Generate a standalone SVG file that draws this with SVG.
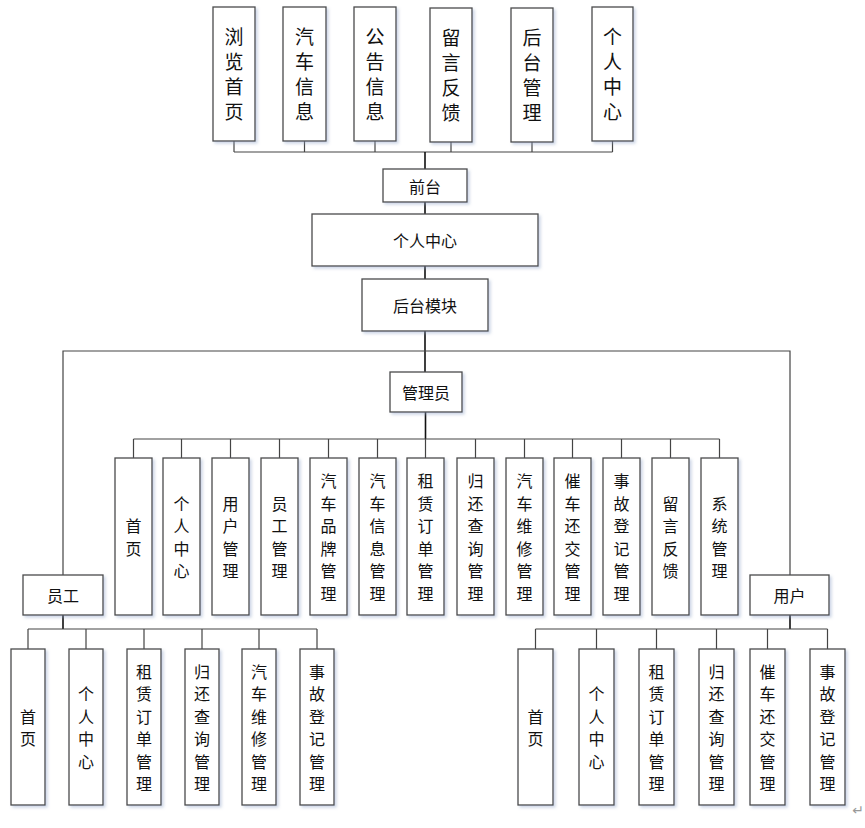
<svg xmlns="http://www.w3.org/2000/svg" width="865" height="828" viewBox="0 0 865 828">
<defs>
<filter id="sh" x="-20%" y="-20%" width="150%" height="150%">
<feDropShadow dx="2" dy="2" stdDeviation="1.5" flood-color="#8fa3c8" flood-opacity="0.45"/>
</filter>
</defs>
<style>
.b{fill:#fff;stroke:#4a4a4a;stroke-width:1.3;filter:url(#sh)}
.t{font-family:"Noto Sans CJK SC","Noto Sans",sans-serif;fill:#111;text-anchor:middle;dominant-baseline:central}
.t19{font-size:19px}
.t16{font-size:16px}
.c{fill:none;stroke:#444;stroke-width:1.2}
.ct{fill:none;stroke:#111;stroke-width:1.6}
</style>
<rect width="865" height="828" fill="#fff"/>
<g id="connectors">
<path class="c" d="M234 141V152M304.5 141V152M375 141V152M451 142V152M532 142V152M612.5 141V152M234 152H612.5"/>
<path class="ct" d="M425 152V169M425 202V214M425 266V279M425 331V372"/>
<path class="c" d="M63 575V351H790V575"/>
<path class="ct" d="M425.5 412V439"/>
<path class="c" d="M133.5 439H719.5M133.5 439V458M181.5 439V458M230.5 439V458M279.5 439V458M328.5 439V458M377.5 439V458M425.5 439V458M475.5 439V458M524.5 439V458M572.5 439V458M621.5 439V458M670.5 439V458M719.5 439V458"/>
<path class="ct" d="M63 615V629M790 615V629"/>
<path class="c" d="M28 629H317M28 629V649M86 629V649M144 629V649M202 629V649M259 629V649M317 629V649"/>
<path class="c" d="M535.5 629H827.5M535.5 629V649M596.5 629V649M656.5 629V649M716.5 629V649M767.5 629V649M827.5 629V649"/>
</g>
<g id="n-liulan"><rect class="b" x="213" y="7" width="42" height="134"/><text class="t t19"><tspan x="234" y="35">浏</tspan><tspan x="234" y="60">览</tspan><tspan x="234" y="85">首</tspan><tspan x="234" y="110">页</tspan></text></g>
<g id="n-qiche"><rect class="b" x="283" y="7" width="43" height="134"/><text class="t t19"><tspan x="304.5" y="35">汽</tspan><tspan x="304.5" y="60">车</tspan><tspan x="304.5" y="85">信</tspan><tspan x="304.5" y="110">息</tspan></text></g>
<g id="n-gonggao"><rect class="b" x="354" y="7" width="42" height="134"/><text class="t t19"><tspan x="375" y="35">公</tspan><tspan x="375" y="60">告</tspan><tspan x="375" y="85">信</tspan><tspan x="375" y="110">息</tspan></text></g>
<g id="n-liuyan"><rect class="b" x="430" y="8" width="42" height="134"/><text class="t t19"><tspan x="451" y="36">留</tspan><tspan x="451" y="61">言</tspan><tspan x="451" y="86">反</tspan><tspan x="451" y="111">馈</tspan></text></g>
<g id="n-houtai"><rect class="b" x="511" y="8" width="42" height="134"/><text class="t t19"><tspan x="532" y="36">后</tspan><tspan x="532" y="61">台</tspan><tspan x="532" y="86">管</tspan><tspan x="532" y="111">理</tspan></text></g>
<g id="n-geren-top"><rect class="b" x="592" y="7" width="41" height="134"/><text class="t t19"><tspan x="612.5" y="35">个</tspan><tspan x="612.5" y="60">人</tspan><tspan x="612.5" y="85">中</tspan><tspan x="612.5" y="110">心</tspan></text></g>
<g id="n-qiantai"><rect class="b" x="383" y="169" width="84" height="33"/><text class="t t16" x="425" y="185.5">前台</text></g>
<g id="n-geren"><rect class="b" x="312" y="214" width="226" height="52"/><text class="t t16" x="425" y="240">个人中心</text></g>
<g id="n-houtaimokuai"><rect class="b" x="362" y="279" width="126" height="52"/><text class="t t16" x="425" y="305">后台模块</text></g>
<g id="n-admin"><rect class="b" x="390" y="372" width="72" height="40"/><text class="t t16" x="426" y="392">管理员</text></g>
<g id="n-a1"><rect class="b" x="115" y="458" width="37" height="157"/><text class="t t16"><tspan x="133.5" y="525.25">首</tspan><tspan x="133.5" y="547.75">页</tspan></text></g>
<g id="n-a2"><rect class="b" x="163" y="458" width="37" height="157"/><text class="t t16"><tspan x="181.5" y="502.75">个</tspan><tspan x="181.5" y="525.25">人</tspan><tspan x="181.5" y="547.75">中</tspan><tspan x="181.5" y="570.25">心</tspan></text></g>
<g id="n-a3"><rect class="b" x="212" y="458" width="37" height="157"/><text class="t t16"><tspan x="230.5" y="502.75">用</tspan><tspan x="230.5" y="525.25">户</tspan><tspan x="230.5" y="547.75">管</tspan><tspan x="230.5" y="570.25">理</tspan></text></g>
<g id="n-a4"><rect class="b" x="261" y="458" width="37" height="157"/><text class="t t16"><tspan x="279.5" y="502.75">员</tspan><tspan x="279.5" y="525.25">工</tspan><tspan x="279.5" y="547.75">管</tspan><tspan x="279.5" y="570.25">理</tspan></text></g>
<g id="n-a5"><rect class="b" x="310" y="458" width="37" height="157"/><text class="t t16"><tspan x="328.5" y="480.25">汽</tspan><tspan x="328.5" y="502.75">车</tspan><tspan x="328.5" y="525.25">品</tspan><tspan x="328.5" y="547.75">牌</tspan><tspan x="328.5" y="570.25">管</tspan><tspan x="328.5" y="592.75">理</tspan></text></g>
<g id="n-a6"><rect class="b" x="359" y="458" width="37" height="157"/><text class="t t16"><tspan x="377.5" y="480.25">汽</tspan><tspan x="377.5" y="502.75">车</tspan><tspan x="377.5" y="525.25">信</tspan><tspan x="377.5" y="547.75">息</tspan><tspan x="377.5" y="570.25">管</tspan><tspan x="377.5" y="592.75">理</tspan></text></g>
<g id="n-a7"><rect class="b" x="407" y="458" width="37" height="157"/><text class="t t16"><tspan x="425.5" y="480.25">租</tspan><tspan x="425.5" y="502.75">赁</tspan><tspan x="425.5" y="525.25">订</tspan><tspan x="425.5" y="547.75">单</tspan><tspan x="425.5" y="570.25">管</tspan><tspan x="425.5" y="592.75">理</tspan></text></g>
<g id="n-a8"><rect class="b" x="457" y="458" width="37" height="157"/><text class="t t16"><tspan x="475.5" y="480.25">归</tspan><tspan x="475.5" y="502.75">还</tspan><tspan x="475.5" y="525.25">查</tspan><tspan x="475.5" y="547.75">询</tspan><tspan x="475.5" y="570.25">管</tspan><tspan x="475.5" y="592.75">理</tspan></text></g>
<g id="n-a9"><rect class="b" x="506" y="458" width="37" height="157"/><text class="t t16"><tspan x="524.5" y="480.25">汽</tspan><tspan x="524.5" y="502.75">车</tspan><tspan x="524.5" y="525.25">维</tspan><tspan x="524.5" y="547.75">修</tspan><tspan x="524.5" y="570.25">管</tspan><tspan x="524.5" y="592.75">理</tspan></text></g>
<g id="n-a10"><rect class="b" x="554" y="458" width="37" height="157"/><text class="t t16"><tspan x="572.5" y="480.25">催</tspan><tspan x="572.5" y="502.75">车</tspan><tspan x="572.5" y="525.25">还</tspan><tspan x="572.5" y="547.75">交</tspan><tspan x="572.5" y="570.25">管</tspan><tspan x="572.5" y="592.75">理</tspan></text></g>
<g id="n-a11"><rect class="b" x="603" y="458" width="37" height="157"/><text class="t t16"><tspan x="621.5" y="480.25">事</tspan><tspan x="621.5" y="502.75">故</tspan><tspan x="621.5" y="525.25">登</tspan><tspan x="621.5" y="547.75">记</tspan><tspan x="621.5" y="570.25">管</tspan><tspan x="621.5" y="592.75">理</tspan></text></g>
<g id="n-a12"><rect class="b" x="652" y="458" width="37" height="157"/><text class="t t16"><tspan x="670.5" y="502.75">留</tspan><tspan x="670.5" y="525.25">言</tspan><tspan x="670.5" y="547.75">反</tspan><tspan x="670.5" y="570.25">馈</tspan></text></g>
<g id="n-a13"><rect class="b" x="701" y="458" width="37" height="157"/><text class="t t16"><tspan x="719.5" y="502.75">系</tspan><tspan x="719.5" y="525.25">统</tspan><tspan x="719.5" y="547.75">管</tspan><tspan x="719.5" y="570.25">理</tspan></text></g>
<g id="n-staff"><rect class="b" x="23" y="575" width="80" height="40"/><text class="t t16" x="63" y="595">员工</text></g>
<g id="n-user"><rect class="b" x="750" y="575" width="79" height="40"/><text class="t t16" x="789.5" y="595">用户</text></g>
<g id="n-s1"><rect class="b" x="11" y="649" width="34" height="156"/><text class="t t16"><tspan x="28" y="715.75">首</tspan><tspan x="28" y="738.25">页</tspan></text></g>
<g id="n-s2"><rect class="b" x="69" y="649" width="34" height="156"/><text class="t t16"><tspan x="86" y="693.25">个</tspan><tspan x="86" y="715.75">人</tspan><tspan x="86" y="738.25">中</tspan><tspan x="86" y="760.75">心</tspan></text></g>
<g id="n-s3"><rect class="b" x="127" y="649" width="34" height="156"/><text class="t t16"><tspan x="144" y="670.75">租</tspan><tspan x="144" y="693.25">赁</tspan><tspan x="144" y="715.75">订</tspan><tspan x="144" y="738.25">单</tspan><tspan x="144" y="760.75">管</tspan><tspan x="144" y="783.25">理</tspan></text></g>
<g id="n-s4"><rect class="b" x="185" y="649" width="34" height="156"/><text class="t t16"><tspan x="202" y="670.75">归</tspan><tspan x="202" y="693.25">还</tspan><tspan x="202" y="715.75">查</tspan><tspan x="202" y="738.25">询</tspan><tspan x="202" y="760.75">管</tspan><tspan x="202" y="783.25">理</tspan></text></g>
<g id="n-s5"><rect class="b" x="242" y="649" width="34" height="156"/><text class="t t16"><tspan x="259" y="670.75">汽</tspan><tspan x="259" y="693.25">车</tspan><tspan x="259" y="715.75">维</tspan><tspan x="259" y="738.25">修</tspan><tspan x="259" y="760.75">管</tspan><tspan x="259" y="783.25">理</tspan></text></g>
<g id="n-s6"><rect class="b" x="300" y="649" width="34" height="156"/><text class="t t16"><tspan x="317" y="670.75">事</tspan><tspan x="317" y="693.25">故</tspan><tspan x="317" y="715.75">登</tspan><tspan x="317" y="738.25">记</tspan><tspan x="317" y="760.75">管</tspan><tspan x="317" y="783.25">理</tspan></text></g>
<g id="n-u1"><rect class="b" x="518" y="649" width="35" height="156"/><text class="t t16"><tspan x="535.5" y="715.75">首</tspan><tspan x="535.5" y="738.25">页</tspan></text></g>
<g id="n-u2"><rect class="b" x="579" y="649" width="35" height="156"/><text class="t t16"><tspan x="596.5" y="693.25">个</tspan><tspan x="596.5" y="715.75">人</tspan><tspan x="596.5" y="738.25">中</tspan><tspan x="596.5" y="760.75">心</tspan></text></g>
<g id="n-u3"><rect class="b" x="639" y="649" width="35" height="156"/><text class="t t16"><tspan x="656.5" y="670.75">租</tspan><tspan x="656.5" y="693.25">赁</tspan><tspan x="656.5" y="715.75">订</tspan><tspan x="656.5" y="738.25">单</tspan><tspan x="656.5" y="760.75">管</tspan><tspan x="656.5" y="783.25">理</tspan></text></g>
<g id="n-u4"><rect class="b" x="699" y="649" width="35" height="156"/><text class="t t16"><tspan x="716.5" y="670.75">归</tspan><tspan x="716.5" y="693.25">还</tspan><tspan x="716.5" y="715.75">查</tspan><tspan x="716.5" y="738.25">询</tspan><tspan x="716.5" y="760.75">管</tspan><tspan x="716.5" y="783.25">理</tspan></text></g>
<g id="n-u5"><rect class="b" x="750" y="649" width="35" height="156"/><text class="t t16"><tspan x="767.5" y="670.75">催</tspan><tspan x="767.5" y="693.25">车</tspan><tspan x="767.5" y="715.75">还</tspan><tspan x="767.5" y="738.25">交</tspan><tspan x="767.5" y="760.75">管</tspan><tspan x="767.5" y="783.25">理</tspan></text></g>
<g id="n-u6"><rect class="b" x="810" y="649" width="35" height="156"/><text class="t t16"><tspan x="827.5" y="670.75">事</tspan><tspan x="827.5" y="693.25">故</tspan><tspan x="827.5" y="715.75">登</tspan><tspan x="827.5" y="738.25">记</tspan><tspan x="827.5" y="760.75">管</tspan><tspan x="827.5" y="783.25">理</tspan></text></g>
<text x="858" y="810" font-family="DejaVu Sans, sans-serif" font-size="14" fill="#999" text-anchor="middle" dominant-baseline="central">↵</text>
</svg>
